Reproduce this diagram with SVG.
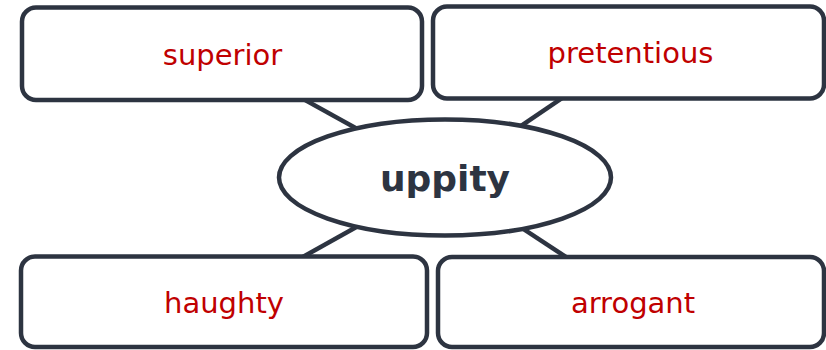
<svg xmlns="http://www.w3.org/2000/svg" width="826" height="350" viewBox="0 0 826 350">
<style>
.box{fill:#ffffff;stroke:#2d3441;stroke-width:4.5}
.lbl{font-family:"DejaVu Sans",sans-serif;font-size:29px;fill:#c00000;text-anchor:middle}
.main{font-family:"DejaVu Sans",sans-serif;font-size:36px;font-weight:bold;fill:#2d3441;text-anchor:middle}
.con{stroke:#2d3441;stroke-width:4.5;fill:none}
</style>
<rect width="826" height="350" fill="#ffffff"/>
<g id="connectors">
<line class="con" x1="445" y1="177.5" x2="222" y2="54"/>
<line class="con" x1="445" y1="177.5" x2="630" y2="52"/>
<line class="con" x1="445" y1="177.5" x2="224" y2="301"/>
<line class="con" x1="445" y1="177.5" x2="633" y2="301"/>
</g>
<g id="superior">
<rect class="box" x="22" y="7.5" width="400" height="92.5" rx="14"/>
<text class="lbl" x="222.5" y="65">superior</text>
</g>
<g id="pretentious">
<rect class="box" x="433" y="6.5" width="391" height="92" rx="14"/>
<text class="lbl" x="630.5" y="63">pretentious</text>
</g>
<g id="haughty">
<rect class="box" x="21" y="256.5" width="406" height="90.5" rx="14"/>
<text class="lbl" x="224" y="312.5">haughty</text>
</g>
<g id="arrogant">
<rect class="box" x="438" y="257" width="386" height="90" rx="14"/>
<text class="lbl" x="633" y="313">arrogant</text>
</g>
<g id="uppity">
<ellipse class="box" cx="445" cy="177.5" rx="166" ry="58"/>
<text class="main" x="445" y="191">uppity</text>
</g>
</svg>
